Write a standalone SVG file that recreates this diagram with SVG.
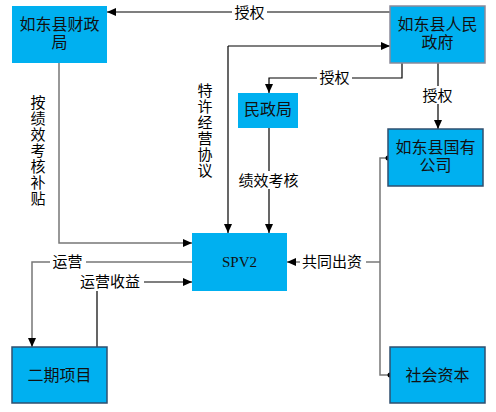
<svg xmlns="http://www.w3.org/2000/svg" width="496" height="412" viewBox="0 0 496 412">
<defs>
<marker id="arr" markerUnits="userSpaceOnUse" markerWidth="10" markerHeight="8" refX="9" refY="4" orient="auto">
<path d="M0,0 L9,4 L0,8 Z" fill="#000"/>
</marker>
<style>
.box{fill:#00B0F0;}
.bd{stroke:#2F4F6F;stroke-width:1.5;}
.bg{stroke:#8A8A9A;stroke-width:1.5;}
.t{font-family:"Noto Sans CJK SC","Liberation Sans",sans-serif;font-size:16px;fill:#111;text-anchor:middle;}
.l{font-family:"Noto Sans CJK SC","Liberation Sans",sans-serif;font-size:15px;fill:#000;text-anchor:middle;}
.v{font-family:"Noto Sans CJK SC","Liberation Sans",sans-serif;font-size:15px;fill:#000;writing-mode:vertical-rl;text-orientation:upright;letter-spacing:1px;}
.k{fill:none;stroke:#000;stroke-width:1.2;}
.g{fill:none;stroke:#777;stroke-width:1.5;}
.w{fill:#fff;}
</style>
</defs>
<rect width="496" height="412" fill="#fff"/>
<g id="connectors">
<path class="k" d="M390,12 L107,12" marker-end="url(#arr)"/>
<path class="k" d="M228,46 L390,46" marker-end="url(#arr)"/>
<path class="k" d="M228,46 L228,233" marker-end="url(#arr)"/>
<path class="k" d="M402,63 L402,78 L269,78 L269,93" marker-end="url(#arr)"/>
<path class="k" d="M438,63 L438,129" marker-end="url(#arr)"/>
<path class="k" d="M269,128 L269,233" marker-end="url(#arr)"/>
<path class="g" d="M59,63 L59,243 L192,243" marker-end="url(#arr)"/>
<path class="g" d="M192,262 L32,262 L32,347" marker-end="url(#arr)"/>
<path class="k" d="M97,347 L97,282 L192,282" marker-end="url(#arr)"/>
<path class="g" d="M388,158 L380,158 L380,375 L390,375"/>
<path class="g" d="M380,262 L287,262" marker-end="url(#arr)"/>
<circle cx="388" cy="158" r="2.5" fill="#000"/>
<circle cx="390" cy="375" r="2.5" fill="#000"/>
<rect class="w" x="232" y="3" width="35" height="18"/>
<text class="l" x="249.5" y="18">授权</text>
<rect class="w" x="317" y="69" width="35" height="18"/>
<text class="l" x="334.5" y="83">授权</text>
<rect class="w" x="420" y="86" width="35" height="18"/>
<text class="l" x="437.5" y="101">授权</text>
<rect class="w" x="234" y="171" width="70" height="18"/>
<text class="l" x="268.5" y="186">绩效考核</text>
<rect class="w" x="300" y="253" width="66" height="18"/>
<text class="l" x="332" y="267">共同出资</text>
<rect class="w" x="50" y="253" width="36" height="18"/>
<text class="l" x="67.5" y="267">运营</text>
<rect class="w" x="76" y="273" width="68" height="18"/>
<text class="l" x="110" y="287">运营收益</text>
<text class="v" x="38" y="95">按绩效考核补贴</text>
<text class="v" x="205" y="83">特许经营协议</text>
</g>
<g id="caizheng">
<rect class="box" x="12" y="6" width="95" height="57"/>
<text class="t"><tspan x="59.5" y="30">如东县财政</tspan><tspan x="59.5" y="48">局</tspan></text>
</g>
<g id="zhengfu">
<rect class="box bg" x="390" y="6" width="95" height="57"/>
<text class="t"><tspan x="437.5" y="30">如东县人民</tspan><tspan x="437.5" y="48">政府</tspan></text>
</g>
<g id="minzheng">
<rect class="box" x="238" y="93" width="60" height="35"/>
<text class="t" x="268" y="115">民政局</text>
</g>
<g id="guoyou">
<rect class="box bd" x="388" y="129" width="95" height="57"/>
<text class="t"><tspan x="435.5" y="153">如东县国有</tspan><tspan x="435.5" y="171">公司</tspan></text>
</g>
<g id="spv2">
<rect class="box" x="192" y="233" width="95" height="58"/>
<text x="239.5" y="267" style="font-family:'Liberation Serif',serif;font-size:15px;fill:#111;text-anchor:middle">SPV2</text>
</g>
<g id="erqi">
<rect class="box bd" x="12" y="347" width="95" height="56"/>
<text class="t" x="59.5" y="381">二期项目</text>
</g>
<g id="shehui">
<rect class="box bd" x="390" y="347" width="95" height="56"/>
<text class="t" x="437.5" y="381">社会资本</text>
</g>
</svg>
